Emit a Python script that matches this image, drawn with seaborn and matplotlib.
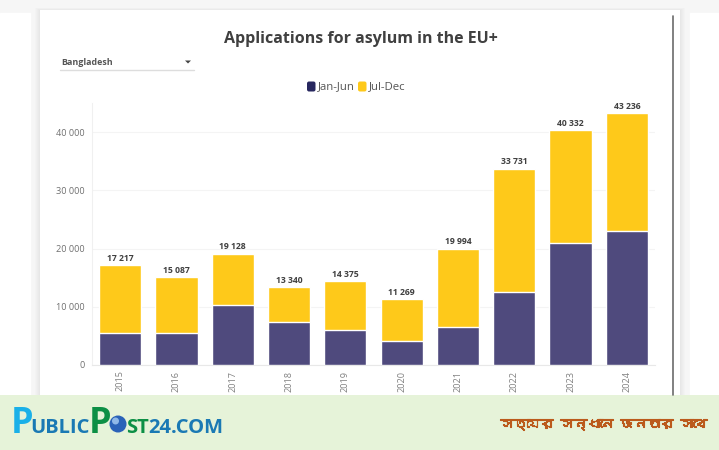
import numpy as np
import pandas as pd
import seaborn as sns
import matplotlib.pyplot as plt
import matplotlib.patheffects as pe
from matplotlib import font_manager
from matplotlib.ft2font import FT2Font
from matplotlib.patches import Rectangle, Circle, Polygon, FancyBboxPatch

sns.set_style('white')
plt.rcParams['font.family'] = ['Open Sans', 'DejaVu Sans']

years = ["2015", "2016", "2017", "2018", "2019", "2020", "2021", "2022", "2023", "2024"]
jan_jun = [5500, 5500, 10300, 7400, 6000, 4200, 6450, 12600, 20900, 23000]
totals = [17217, 15087, 19128, 13340, 14375, 11269, 19994, 33731, 40332, 43236]
total_labels = ["17 217", "15 087", "19 128", "13 340", "14 375", "11 269", "19 994", "33 731", "40 332", "43 236"]
yticks = [0, 10000, 20000, 30000, 40000]
ytick_labels = ["0", "10 000", "20 000", "30 000", "40 000"]
tagline = "সত্যের সন্ধানে জনতার সাথে"

W, H = 719, 450
navy = "#4f4a7d"
yellow = "#fec91a"

dat = pd.DataFrame({"year": years, "jan_jun": jan_jun, "total": totals})

# look for an installed family that can draw the Bengali tagline
bengali = []
for f in font_manager.fontManager.ttflist:
    try:
        if 0x09B8 in FT2Font(f.fname).get_charmap():
            bengali.append(f.name)
    except Exception:
        pass

fig = plt.figure(figsize=(W / 100, H / 100), dpi=100, facecolor="#f6f6f6")

# page furniture in pixel coordinates
bg = fig.add_axes([0, 0, 1, 1], zorder=0)
bg.set_xlim(0, W)
bg.set_ylim(H, 0)
bg.axis("off")
bg.add_patch(Rectangle((0, 13), 30, 390, color="white"))
bg.add_patch(Rectangle((690, 13), 29, 390, color="white"))
for i in range(6):
    bg.add_patch(Rectangle((40 - i, 10 - i * 0.5), 640 + 2 * i, 390, color="#000000", alpha=0.012, lw=0))
bg.add_patch(Rectangle((40, 10), 640, 390, color="white", lw=0))
bg.plot([673, 673], [16, 395], color="#6b6b6b", lw=1.2)
bg.add_patch(Rectangle((0, 395), W, 55, color="#e6f3d9", lw=0))

# dropdown
bg.text(61, 62.5, "Bangladesh", fontsize=6.4, fontweight="bold", color="#555555", va="center")
bg.plot([60, 194], [69.5, 69.5], color="#dddddd", lw=1)
bg.add_patch(Polygon([[185, 60.5], [191, 60.5], [188, 63.5]], color="#444444", lw=0))

bg.text(360.5, 39, "Applications for asylum in the EU+", fontsize=11.5, fontweight="bold",
        color="#404040", ha="center", va="center")

# legend
bg.add_patch(FancyBboxPatch((308, 82.5), 6.5, 8, boxstyle="round,pad=1,rounding_size=2", color="#27275f", lw=0))
bg.text(317.5, 86.5, "Jan-Jun", fontsize=8.2, color="#555555", va="center")
bg.add_patch(FancyBboxPatch((359, 82.5), 6.5, 8, boxstyle="round,pad=1,rounding_size=2", color=yellow, lw=0))
bg.text(369, 86.5, "Jul-Dec", fontsize=8.2, color="#555555", va="center")

# footer logo
bg.text(11, 433, "P", fontsize=26, fontweight="bold", color="#1ab0e8", va="baseline")
bg.text(30, 433, "UBLIC", fontsize=14.5, fontweight="bold", color="#1a79b4", va="baseline")
bg.text(89, 433, "P", fontsize=26, fontweight="bold", color="#0c8f45", va="baseline")
bg.add_patch(Circle((118, 424), 8.5, color="#2a62b8", lw=0))
bg.add_patch(Circle((115.5, 421), 3.5, color="#8fb8e8", lw=0))
bg.text(126, 433, "ST", fontsize=14.5, fontweight="bold", color="#0c8f45", va="baseline")
bg.text(148, 433, "24.COM", fontsize=14.5, fontweight="bold", color="#1a79b4", va="baseline")

# the thin Bengali face gets a stroke so it reads as heavy as the original
tag_family = bengali[:1] + ['Open Sans', 'DejaVu Sans']
bg.text(707, 424, tagline, fontsize=9.6, fontweight="bold", color="#bb5a1c",
        ha="right", va="center", family=tag_family,
        path_effects=[pe.withStroke(linewidth=0.8, foreground="#bb5a1c")])

# chart
left, right, top, bottom = 92, 655, 103, 365
ax = fig.add_axes([left / W, 1 - bottom / H, (right - left) / W, (bottom - top) / H], zorder=1)
ax.patch.set_alpha(0)
sns.barplot(data=dat, x="year", y="total", color=yellow, saturation=1, width=0.75, ax=ax, zorder=3)
sns.barplot(data=dat, x="year", y="jan_jun", color=navy, saturation=1, width=0.75, ax=ax, zorder=4)

ax.set_xlim(-0.5, 9.5)
ax.set_ylim(0, 262 / 58.25 * 10000)
ax.set_xlabel("")
ax.set_ylabel("")
ax.set_yticks(yticks, ytick_labels)
ax.tick_params(axis="y", labelsize=6.6, labelcolor="#707070", length=0, pad=5)
ax.tick_params(axis="x", labelsize=6.6, labelcolor="#808080", length=0, pad=4, labelrotation=90)
ax.grid(axis="y", color="#f4f4f4", lw=0.8, zorder=0)
ax.set_axisbelow(True)
sns.despine(ax=ax, top=True, right=True)
ax.spines["left"].set_color("#f0f0f0")
ax.spines["bottom"].set_color("#e8e8e8")

for i, lab in enumerate(total_labels):
    ax.annotate(lab, (i, totals[i]), xytext=(0, 1.5), textcoords="offset points", ha="center",
                va="bottom", fontsize=6.2, fontweight="bold", color="#404040", zorder=5)

fig.savefig("out.png", dpi=100, facecolor=fig.get_facecolor())
